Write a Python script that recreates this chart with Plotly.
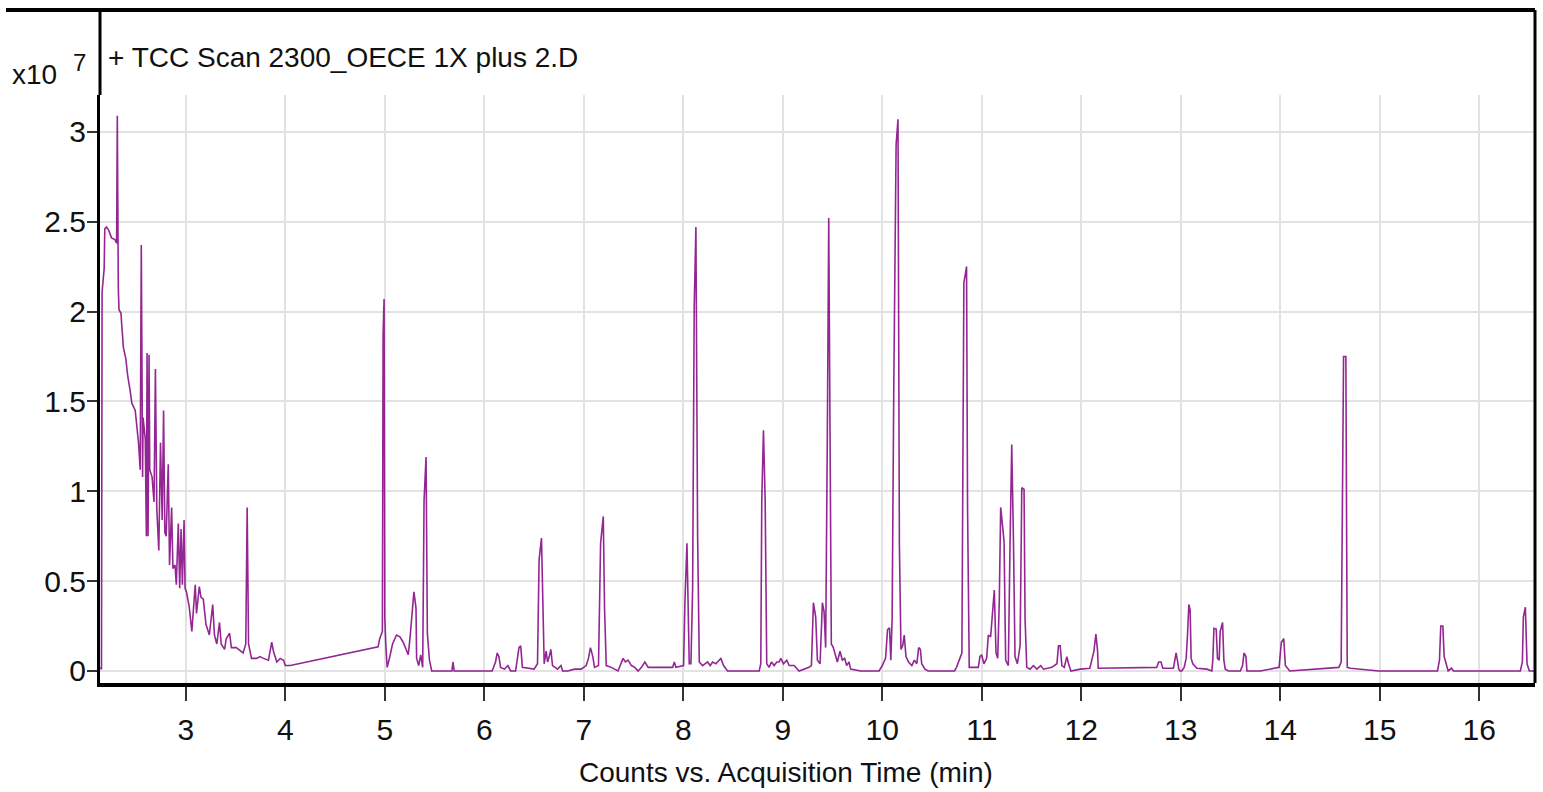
import plotly.graph_objects as go

# Retention time (min)
time_min = [
    2.140, 2.153, 2.159, 2.180, 2.186, 2.203, 2.227, 2.254, 2.288, 2.305, 2.312, 2.315, 2.322, 2.329,
    2.349, 2.356, 2.373, 2.397, 2.417, 2.441, 2.458, 2.492, 2.508, 2.525, 2.542, 2.553, 2.566, 2.571,
    2.593, 2.604, 2.611, 2.621, 2.631, 2.638, 2.661, 2.681, 2.695, 2.709, 2.729, 2.746, 2.763, 2.777,
    2.790, 2.803, 2.824, 2.837, 2.858, 2.871, 2.892, 2.905, 2.925, 2.939, 2.953, 2.966, 2.983, 2.993,
    3.007, 3.034, 3.061, 3.075, 3.095, 3.108, 3.136, 3.153, 3.176, 3.203, 3.237, 3.271, 3.288, 3.312,
    3.339, 3.356, 3.390, 3.407, 3.441, 3.458, 3.508, 3.576, 3.603, 3.617, 3.631, 3.661, 3.712, 3.746,
    3.780, 3.831, 3.847, 3.864, 3.881, 3.915, 3.949, 3.983, 4.000, 4.051,
    4.933, 4.949, 4.976, 4.983, 4.993, 5.000, 5.010, 5.024, 5.051, 5.078, 5.118, 5.152, 5.185, 5.212,
    5.236, 5.253, 5.270, 5.293, 5.314, 5.320, 5.341, 5.361, 5.381, 5.395, 5.415, 5.428, 5.449, 5.472,
    5.675, 5.685, 5.698, 6.079, 6.113, 6.130, 6.147, 6.164, 6.204, 6.238, 6.265, 6.315, 6.349, 6.366,
    6.383, 6.433, 6.501, 6.535, 6.551, 6.575, 6.592, 6.602, 6.622, 6.636, 6.653, 6.669, 6.686, 6.737,
    6.771, 6.788, 6.838, 6.906, 6.973, 7.024, 7.047, 7.067, 7.091, 7.108, 7.148, 7.169, 7.196, 7.209,
    7.226, 7.277, 7.344, 7.395, 7.418, 7.445, 7.479, 7.513, 7.546, 7.580, 7.614, 7.648,
    7.893, 7.910, 7.926, 8.003, 8.017, 8.037, 8.060, 8.077, 8.094, 8.110, 8.127, 8.144, 8.161, 8.194,
    8.244, 8.271, 8.294, 8.328, 8.344, 8.378, 8.405, 8.445, 8.763, 8.779, 8.789, 8.806, 8.823, 8.839,
    8.863, 8.886, 8.913, 8.940, 8.963, 8.980, 9.007, 9.040, 9.064, 9.114, 9.164, 9.264, 9.288, 9.308,
    9.331, 9.348, 9.375, 9.398, 9.415, 9.431, 9.448, 9.462, 9.475, 9.488, 9.508, 9.532, 9.548, 9.575,
    9.599, 9.622, 9.642, 9.666, 9.682, 9.783, 9.967, 10.000, 10.033, 10.053, 10.073, 10.086, 10.099,
    10.116, 10.139, 10.158, 10.172, 10.188, 10.205, 10.221, 10.238, 10.264, 10.297, 10.323, 10.347,
    10.366, 10.383, 10.396, 10.429, 10.462, 10.726, 10.746, 10.780, 10.800, 10.820, 10.847, 10.857,
    10.874, 10.965, 10.982, 10.998, 11.022, 11.049, 11.066, 11.089, 11.109, 11.126, 11.143, 11.160,
    11.176, 11.190, 11.210, 11.224, 11.240, 11.267, 11.284, 11.301, 11.318, 11.334, 11.358, 11.385,
    11.402, 11.425, 11.435, 11.452, 11.486, 11.519, 11.553, 11.593, 11.620, 11.704, 11.755, 11.771,
    11.788, 11.805, 11.829, 11.855, 11.872, 11.896, 11.990, 12.086, 12.127, 12.147, 12.164, 12.170,
    12.758, 12.778, 12.802, 12.819, 12.926, 12.940, 12.953, 12.966, 12.980, 12.993, 13.010, 13.034,
    13.054, 13.067, 13.081, 13.094, 13.104, 13.121, 13.161, 13.262, 13.312, 13.322, 13.333, 13.356,
    13.369, 13.386, 13.396, 13.420, 13.433, 13.447, 13.480, 13.598, 13.621, 13.635, 13.655, 13.665,
    13.799, 13.988, 14.011, 14.035, 14.051, 14.095, 14.589, 14.612, 14.626, 14.636, 14.659, 14.673,
    14.706, 14.992, 15.580, 15.600, 15.613, 15.634, 15.647, 15.667, 15.687, 15.721, 15.741, 16.413,
    16.433, 16.443, 16.463, 16.480, 16.503, 16.554,
]

# Counts (x10^7)
counts_e7 = [
    0.02, 0.01, 2.11, 2.24, 2.46, 2.47, 2.45, 2.41, 2.40, 2.38, 3.09, 2.38, 2.13, 2.01,
    1.99, 1.93, 1.80, 1.74, 1.64, 1.56, 1.49, 1.45, 1.37, 1.27, 1.12, 2.37, 1.08, 1.41,
    1.29, 0.75, 1.77, 0.75, 1.76, 1.12, 1.08, 0.94, 1.68, 0.90, 0.67, 1.27, 0.84, 1.45,
    0.77, 0.75, 1.15, 0.59, 0.91, 0.57, 0.59, 0.48, 0.82, 0.46, 0.79, 0.48, 0.84, 0.46,
    0.44, 0.36, 0.22, 0.34, 0.48, 0.32, 0.47, 0.41, 0.40, 0.26, 0.20, 0.37, 0.20, 0.15,
    0.27, 0.15, 0.12, 0.18, 0.21, 0.13, 0.13, 0.10, 0.15, 0.91, 0.15, 0.07, 0.07, 0.08,
    0.07, 0.06, 0.11, 0.16, 0.11, 0.05, 0.07, 0.06, 0.03, 0.03,
    0.134, 0.18, 0.22, 1.87, 2.07, 0.30, 0.15, 0.02, 0.08, 0.15, 0.20, 0.19, 0.16, 0.12,
    0.09, 0.18, 0.30, 0.44, 0.35, 0.07, 0.03, 0.09, 0.02, 0.95, 1.19, 0.21, 0.06, 0.00,
    0.00, 0.05, 0.00, 0.00, 0.05, 0.10, 0.08, 0.02, 0.01, 0.03, 0.00, 0.00, 0.13, 0.14,
    0.02, 0.015, 0.01, 0.04, 0.62, 0.74, 0.30, 0.04, 0.11, 0.05, 0.08, 0.12, 0.03, 0.01,
    0.03, 0.00, 0.00, 0.01, 0.01, 0.03, 0.07, 0.13, 0.08, 0.02, 0.03, 0.71, 0.86, 0.34,
    0.03, 0.02, 0.00, 0.07, 0.05, 0.06, 0.03, 0.02, 0.00, 0.02, 0.05, 0.02,
    0.02, 0.05, 0.02, 0.03, 0.39, 0.71, 0.04, 0.04, 0.46, 2.03, 2.47, 0.76, 0.05, 0.03,
    0.05, 0.03, 0.05, 0.04, 0.05, 0.07, 0.03, 0.00, 0.00, 0.04, 0.95, 1.34, 0.95, 0.04,
    0.02, 0.05, 0.03, 0.05, 0.05, 0.07, 0.04, 0.06, 0.03, 0.03, 0.00, 0.02, 0.03, 0.38,
    0.30, 0.06, 0.04, 0.38, 0.33, 0.13, 1.32, 2.52, 1.32, 0.15, 0.13, 0.08, 0.05, 0.11,
    0.06, 0.07, 0.03, 0.05, 0.01, 0.00, 0.00, 0.03, 0.07, 0.23, 0.24, 0.06, 0.29,
    1.61, 2.93, 3.07, 0.70, 0.12, 0.14, 0.20, 0.08, 0.05, 0.03, 0.06, 0.04,
    0.13, 0.12, 0.04, 0.01, 0.00, 0.00, 0.02, 0.07, 0.10, 2.16, 2.25, 0.91,
    0.02, 0.02, 0.08, 0.09, 0.04, 0.07, 0.20, 0.19, 0.36, 0.45, 0.10, 0.07,
    0.39, 0.91, 0.80, 0.72, 0.06, 0.03, 0.70, 1.26, 0.74, 0.08, 0.04, 0.14,
    1.02, 1.01, 0.29, 0.02, 0.01, 0.03, 0.01, 0.03, 0.01, 0.02, 0.04, 0.14,
    0.14, 0.03, 0.02, 0.08, 0.04, 0.00, 0.01, 0.015, 0.11, 0.205, 0.11, 0.015,
    0.02, 0.05, 0.05, 0.015, 0.015, 0.06, 0.10, 0.06, 0.01, 0.00, 0.00, 0.02,
    0.07, 0.19, 0.37, 0.34, 0.07, 0.04, 0.015, 0.01, 0.00, 0.06, 0.237, 0.233,
    0.07, 0.06, 0.22, 0.27, 0.06, 0.01, 0.00, 0.00, 0.03, 0.10, 0.08, 0.00,
    0.00, 0.02, 0.16, 0.18, 0.03, 0.00, 0.02, 0.05, 0.93, 1.75, 1.75, 0.02,
    0.015, 0.00, 0.00, 0.06, 0.25, 0.25, 0.08, 0.04, 0.00, 0.015, 0.00, 0.00,
    0.05, 0.30, 0.355, 0.04, 0.00, 0.00,
]

x_ticks = [3, 4, 5, 6, 7, 8, 9, 10, 11, 12, 13, 14, 15, 16]
y_ticks = [0, 0.5, 1, 1.5, 2, 2.5, 3]
y_tick_labels = ["0", "0.5", "1", "1.5", "2", "2.5", "3"]

title_text = "+ TCC Scan 2300_OECE 1X plus 2.D"
x_title = "Counts vs. Acquisition Time (min)"

FONT = "Liberation Sans, Arial, sans-serif"

fig = go.Figure()
fig.add_trace(go.Scatter(
    x=time_min, y=counts_e7, mode="lines",
    line=dict(color="rgba(128,0,128,0.85)", width=1.6),
    hoverinfo="skip", showlegend=False,
))

L, R, T, B = 100, 8, 95, 109
W, H = 1543, 792
pw, ph = W - L - R, H - T - B
top_y = 1 + (T - 10) / ph

fig.update_layout(
    width=W, height=H,
    margin=dict(l=L, r=R, t=T, b=B, pad=0),
    paper_bgcolor="white", plot_bgcolor="white",
    font=dict(family=FONT, color="#111111", size=28),
    xaxis=dict(
        range=[2.138, 16.56], tickvals=x_ticks, ticks="outside", ticklen=14,
        tickwidth=1.5, tickcolor="#333333", showline=True, linecolor="black",
        linewidth=4, showgrid=True, gridcolor="#e2e2e2", gridwidth=1.5,
        zeroline=False, tickfont=dict(size=30), ticklabelstandoff=3,
    ),
    yaxis=dict(
        range=[-0.067, 3.205], tickvals=y_ticks, ticktext=y_tick_labels,
        ticks="outside", ticklen=10, tickwidth=1.5, tickcolor="#333333",
        showline=True, linecolor="black", linewidth=3, showgrid=True,
        gridcolor="#e2e2e2", gridwidth=1.5, zeroline=False,
        tickfont=dict(size=30), ticklabelstandoff=-5,
    ),
    shapes=[
        dict(type="line", xref="paper", yref="paper", x0=-94 / pw, x1=1, y0=top_y, y1=top_y,
             line=dict(color="black", width=4)),
        dict(type="line", xref="paper", yref="paper", x0=0, x1=0, y0=1, y1=top_y,
             line=dict(color="black", width=3)),
        dict(type="line", xref="paper", yref="paper", x0=1, x1=1, y0=0, y1=top_y,
             line=dict(color="black", width=3)),
    ],
    annotations=[
        dict(text=title_text, xref="paper", yref="paper", x=(106 - L) / pw,
             y=1 + (T - 57) / ph, xanchor="left", yanchor="middle", showarrow=False,
             font=dict(size=28)),
        dict(text="x10", xref="paper", yref="paper", x=(10 - L) / pw,
             y=1 + (T - 75) / ph, xanchor="left", yanchor="middle", showarrow=False,
             font=dict(size=28)),
        dict(text="7", xref="paper", yref="paper", x=(71 - L) / pw,
             y=1 + (T - 62) / ph, xanchor="left", yanchor="middle", showarrow=False,
             font=dict(size=24)),
        dict(text=x_title, xref="paper", yref="paper", x=(786 - L) / pw,
             y=-(772 - (H - B)) / ph, xanchor="center", yanchor="middle", showarrow=False,
             font=dict(size=28)),
    ],
)

fig.write_html("out.html", config={"displayModeBar": False},
               post_script="document.body.style.margin='0';document.body.style.overflow='hidden';")
